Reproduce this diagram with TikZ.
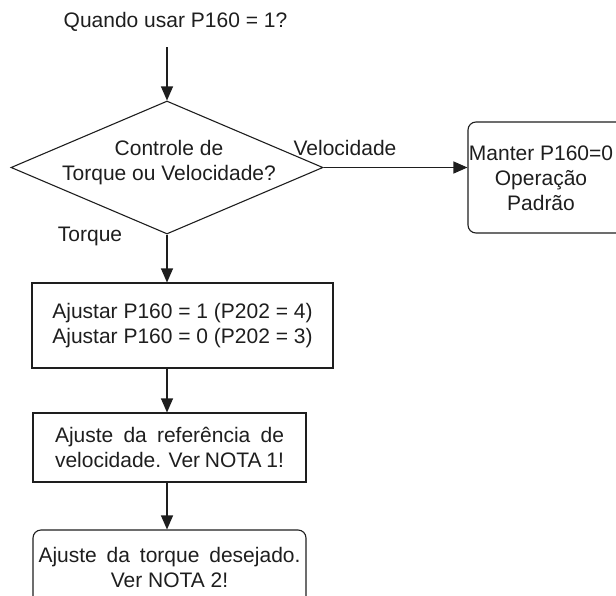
\documentclass[tikz,border=0pt]{standalone}
\usepackage{fontspec}
\setmainfont{Liberation Sans}
\usetikzlibrary{shapes.geometric,arrows.meta}
\definecolor{ink}{HTML}{1E1E1E}
\tikzset{
  txt/.style={inner sep=0pt, text=ink, font=\fontsize{21}{25}\selectfont, align=center},
  box/.style={draw=ink, line width=1.1pt, inner sep=0pt},
  rbox/.style={box, rounded corners=8pt},
  conn/.style={draw=ink, line width=1.1pt, -{Triangle[length=14pt,width=12pt]}},
}
\begin{document}
\begin{tikzpicture}[x=1pt,y=1pt]
\useasboundingbox (0,0) rectangle (616,-595);
\node[txt] (title) at (175.5,-22) {Quando usar P160 = 1?};
\coordinate (start) at (167,-47);
\node[diamond, draw=ink, line width=1.1pt, inner sep=0pt, minimum width=312pt, minimum height=133pt] (dia) at (167,-167.5) {};
\node[txt] (diat) at (169,-163) {Controle de\\Torque ou Velocidade?};
\node[txt] (vel) at (345,-148) {Velocidade};
\node[txt] (tor) at (90,-236) {Torque};
\node[rbox, minimum width=162pt, minimum height=111pt] (rb) at (549,-177.5) {};
\node[txt] (rbt) at (541,-178) {Manter P160=0\\Operação\\Padrão};
\node[box, minimum width=301pt, minimum height=85pt, txt, draw=ink] (b1) at (182.5,-325.5) {Ajustar P160 = 1 (P202 = 4)\\Ajustar P160 = 0 (P202 = 3)};
\node[box, minimum width=273pt, minimum height=69pt, txt, draw=ink] (b2) at (169.5,-447.5) {\makebox[229pt][s]{Ajuste da referência de}\\\makebox[229pt][s]{velocidade. Ver NOTA 1!}};
\node[rbox, minimum width=273pt, minimum height=75pt, txt, draw=ink] (b3) at (169.5,-567.5) {\makebox[262pt][s]{Ajuste da torque desejado.}\\Ver NOTA 2!};
\draw[conn] (start) -- (dia.north);
\draw[conn] (dia.east) -- (dia.east -| rb.west);
\draw[conn] (dia.south) -- (dia.south |- b1.north);
\draw[conn] (dia.south |- b1.south) -- (dia.south |- b2.north);
\draw[conn] (dia.south |- b2.south) -- (dia.south |- b3.north);
\end{tikzpicture}
\end{document}
